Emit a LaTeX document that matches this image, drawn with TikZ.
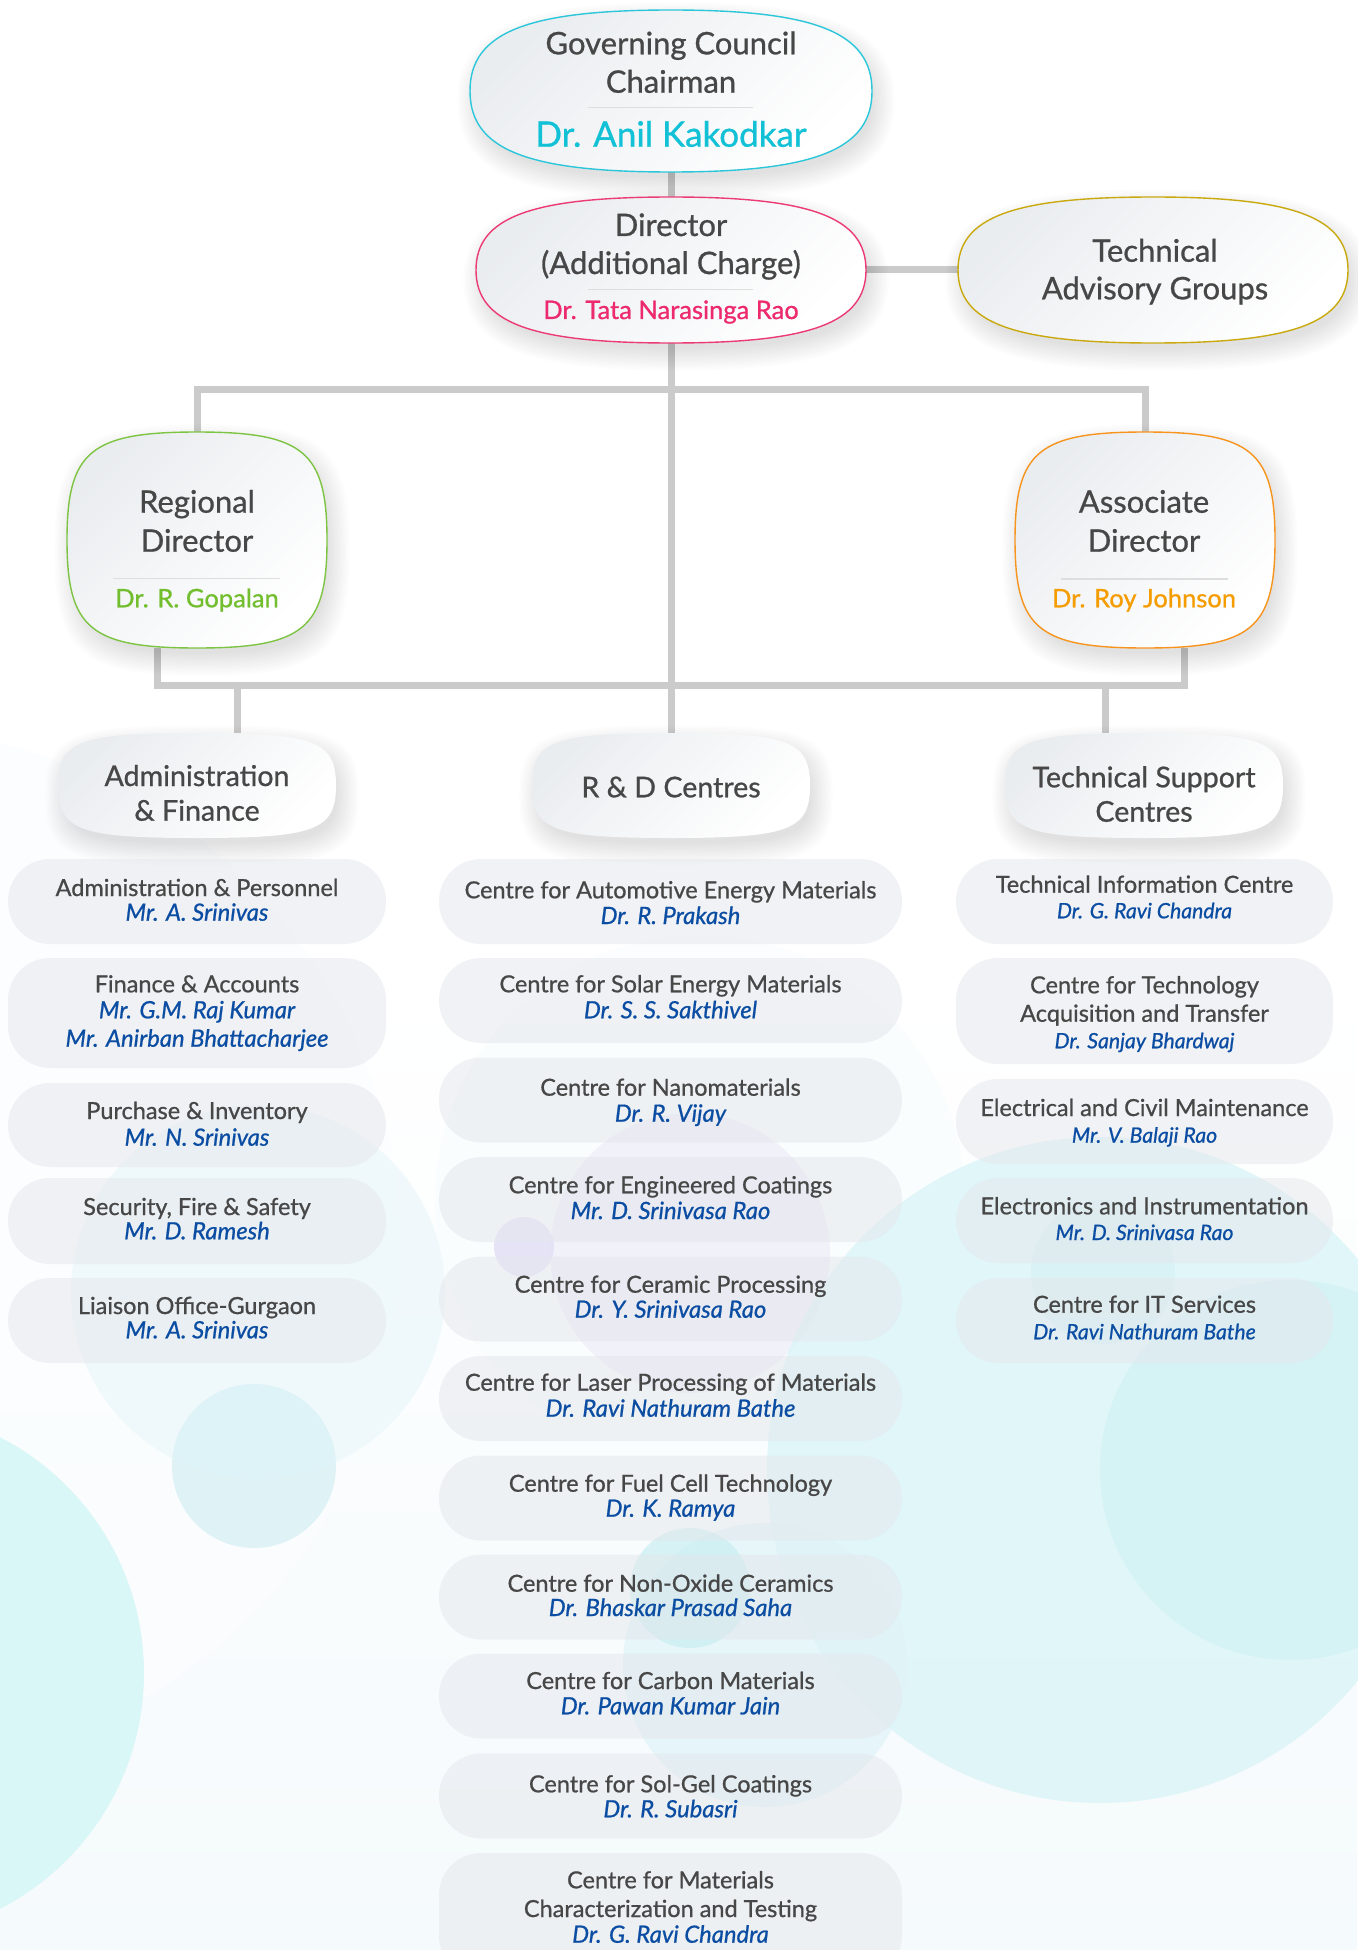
\documentclass[tikz,border=0pt]{standalone}
\usepackage{fontspec}
\setmainfont{Lato}[FakeBold=0.8]

\definecolor{ink}{HTML}{474747}
\definecolor{who}{HTML}{0B4DA2}
\definecolor{cyanB}{HTML}{2CC6DA}
\definecolor{cyanT}{HTML}{12C1D6}
\definecolor{pinkB}{HTML}{EC3B74}
\definecolor{pinkT}{HTML}{EC2A6D}
\definecolor{goldB}{HTML}{C9A90E}
\definecolor{greenB}{HTML}{7DC443}
\definecolor{greenT}{HTML}{72BE2E}
\definecolor{orangeB}{HTML}{F7941E}
\definecolor{orangeT}{HTML}{F59C00}
\definecolor{wire}{HTML}{CBCBCB}
\definecolor{sep}{HTML}{DEDEDE}
\definecolor{hdgray}{HTML}{EAEDF0}
\definecolor{pill}{HTML}{E4E7EC}
\definecolor{bgbot}{HTML}{F5FAFC}

\pgfdeclarelayer{bg}
\pgfdeclarelayer{lines}
\pgfdeclarelayer{shapes}
\pgfsetlayers{bg,lines,shapes,main}

% rounded super-ellipse around a named node: node, half width, half height, roundness, style
\newcommand\blob[5]{%
  \path[shift={(#1.center)}, #5]
    ({#2},0) .. controls ({#2},{#4*#3}) and ({#4*#2},{#3}) .. (0,{#3})
    .. controls ({-#4*#2},{#3}) and ({-#2},{#4*#3}) .. ({-#2},0)
    .. controls ({-#2},{-#4*#3}) and ({-#4*#2},{-#3}) .. (0,{-#3})
    .. controls ({#4*#2},{-#3}) and ({#2},{-#4*#3}) .. ({#2},0) -- cycle;}

% soft drop shadow under a blob: node, half width, half height, roundness
\newcommand\blobshadow[4]{%
  \foreach \i in {0,...,9}{%
    \pgfmathsetmacro\sa{#2-4+\i*2.4}%
    \pgfmathsetmacro\sb{#3-4+\i*2.4}%
    \blob{#1}{\sa}{\sb}{#4}{xshift=5pt, yshift=-10pt, fill=black, fill opacity=0.011}}}

% two-line entry: name, x, y, width, height, title baseline, person baseline, title, person
\newcommand\leaf[9]{%
  \node[leafbox, minimum width=#4pt, minimum height=#5pt] (#1) at (#2,#3) {};
  \node[lt] (#1-a) at (#2,#6) {#8};
  \node[ln] (#1-b) at (#2,#7) {#9};}
\newcommand\leafR[9]{%
  \node[leafbox, minimum width=#4pt, minimum height=#5pt] (#1) at (#2,#3) {};
  \node[lt] (#1-a) at (#2,#6) {#8};
  \node[lnR] (#1-b) at (#2,#7) {#9};}

\begin{document}
\begin{tikzpicture}[x=1pt, y=-1pt,
  hdbox/.style={rectangle, draw=none, inner sep=0pt},
  hdfill/.style={line width=1.4pt, left color=hdgray, right color=white, shading angle=45},
  leafbox/.style={rectangle, rounded corners=42pt, draw=none, fill=pill, fill opacity=0.5, inner sep=0pt},
  conn/.style={draw=wire, line width=7pt},
  sepline/.style={draw=sep, line width=1.2pt},
  big/.style={font=\fontsize{31}{37}\selectfont, text=ink, anchor=base, inner sep=0pt},
  mid/.style={font=\fontsize{28.6}{34}\selectfont, text=ink, anchor=base, inner sep=0pt},
  nm/.style={font=\fontsize{25.5}{30}\selectfont, anchor=base, inner sep=0pt},
  lt/.style={font=\fontsize{23.5}{28}\selectfont, text=ink, anchor=base, inner sep=0pt},
  ln/.style={font=\fontsize{23.8}{28}\selectfont\itshape, text=who, anchor=base, inner sep=0pt},
  lnR/.style={font=\fontsize{21.2}{25}\selectfont\itshape, text=who, anchor=base, inner sep=0pt},
]
\useasboundingbox (0,0) rectangle (1357,1950);

% ---------- background ----------
\begin{pgfonlayer}{bg}
  \fill[top color=white, bottom color=bgbot, middle color=white] (0,0) rectangle (1357,1950);
  \fill[color=white!65!bgbot, fill opacity=0.9] (-120,1250) circle[radius=520];
  \fill[color=white!55!bgbot, fill opacity=0.8] (700,1200) circle[radius=265];
  \fill[color={rgb,255:red,238;green,248;blue,251}, fill opacity=0.85] (258,1292) circle[radius=187];
  \fill[color={rgb,255:red,239;green,238;blue,250}, fill opacity=0.8] (690,1253) circle[radius=140];
  \fill[color={rgb,255:red,227;green,225;blue,245}, fill opacity=0.9] (524,1247) circle[radius=30];
  \fill[color={rgb,255:red,216;green,244;blue,247}, fill opacity=0.75] (1100,1470) circle[radius=333];
  \fill[color={rgb,255:red,206;green,240;blue,244}, fill opacity=0.6] (1290,1470) circle[radius=190];
  \fill[color={rgb,255:red,208;green,239;blue,243}, fill opacity=0.5] (1103,1272) circle[radius=72];
  \fill[color={rgb,255:red,224;green,244;blue,248}, fill opacity=0.75] (765,1665) circle[radius=142];
  \fill[color={rgb,255:red,200;green,238;blue,241}, fill opacity=0.7] (690,1588) circle[radius=60];
  \fill[color={rgb,255:red,222;green,243;blue,247}, fill opacity=0.95] (254,1466) circle[radius=82];
  \fill[color={rgb,255:red,218;green,247;blue,248}] (-121,1673) circle[radius=265];
\end{pgfonlayer}

% ---------- heading blocks ----------
\node[hdbox, minimum width=402pt, minimum height=162pt] (gc)  at (671,91)  {};
\node[hdbox, minimum width=390pt, minimum height=146pt] (dir) at (671,270) {};
\node[hdbox, minimum width=390pt, minimum height=146pt] (tag) at (1153,270) {};
\node[hdbox, minimum width=260pt, minimum height=216pt] (rd)  at (197,540) {};
\node[hdbox, minimum width=260pt, minimum height=216pt] (ad)  at (1145,540) {};
\node[hdbox, minimum width=278pt, minimum height=105pt] (af)  at (197,785.5) {};
\node[hdbox, minimum width=278pt, minimum height=105pt] (rdc) at (671,785.5) {};
\node[hdbox, minimum width=278pt, minimum height=105pt] (tsc) at (1144,785.5) {};

\begin{pgfonlayer}{shapes}
  \blobshadow{gc}{201}{81}{0.72}
  \blobshadow{dir}{195}{73}{0.72}
  \blobshadow{tag}{195}{73}{0.72}
  \blobshadow{rd}{130}{108}{0.82}
  \blobshadow{ad}{130}{108}{0.82}
  \blobshadow{af}{139}{52.5}{0.85}
  \blobshadow{rdc}{139}{52.5}{0.85}
  \blobshadow{tsc}{139}{52.5}{0.85}
  \blob{gc}{201}{81}{0.72}{hdfill, draw=cyanB}
  \blob{dir}{195}{73}{0.72}{hdfill, draw=pinkB}
  \blob{tag}{195}{73}{0.72}{hdfill, draw=goldB}
  \blob{rd}{130}{108}{0.82}{hdfill, draw=greenB}
  \blob{ad}{130}{108}{0.82}{hdfill, draw=orangeB}
  \blob{af}{139}{52.5}{0.85}{hdfill}
  \blob{rdc}{139}{52.5}{0.85}{hdfill}
  \blob{tsc}{139}{52.5}{0.85}{hdfill}
  \draw[sepline] (588,107.3) -- (753,107.3);
  \draw[sepline] (588,289.3) -- (753,289.3);
  \draw[sepline] (113,578.3) -- (280,578.3);
  \draw[sepline] (1061,579) -- (1228,579);
\end{pgfonlayer}

% ---------- connectors ----------
\coordinate (upbar)  at (671,389);
\coordinate (lowbar) at (671,685);
\begin{pgfonlayer}{lines}
  \draw[conn] (gc.south) -- (dir.north);
  \draw[conn] (dir.east) -- (tag.west);
  \draw[conn] (dir.south) -- (rdc.north);
  \draw[conn] (rd.north) |- (upbar) -| (ad.north);
  \draw[conn] ([xshift=-40pt]rd.south) |- (lowbar) -| ([xshift=39pt]ad.south);
  \draw[conn] ([xshift=40pt]af.north) |- (lowbar);
  \draw[conn] ([xshift=-39pt]tsc.north) |- (lowbar);
\end{pgfonlayer}

% ---------- heading texts ----------
\node[big] (gc-a) at (671,54.3) {Governing Council};
\node[big] (gc-b) at (671,92.7) {Chairman};
\node[nm, font=\fontsize{35}{42}\selectfont, text=cyanT] (gc-c) at (671,146.7) {Dr. Anil Kakodkar};

\node[big] (dir-a) at (671,236) {Director};
\node[big] (dir-b) at (671,274) {(Additional Charge)};
\node[nm, text=pinkT] (dir-c) at (671,319) {Dr. Tata Narasinga Rao};

\node[big] (tag-a) at (1155,261.7) {Technical};
\node[big] (tag-b) at (1155,299.3) {Advisory Groups};

\node[big] (rd-a) at (197,512.7) {Regional};
\node[big] (rd-b) at (197,551.7) {Director};
\node[nm, text=greenT] (rd-c) at (197,607.3) {Dr. R. Gopalan};

\node[big] (ad-a) at (1144,512.7) {Associate};
\node[big] (ad-b) at (1144,551.7) {Director};
\node[nm, text=orangeT] (ad-c) at (1144,607.3) {Dr. Roy Johnson};

\node[mid] (af-a) at (197,786) {Administration};
\node[mid] (af-b) at (197,820.7) {\& Finance};
\node[mid] (rdc-a) at (671,797.3) {R \& D Centres};
\node[mid] (tsc-a) at (1144,787.3) {Technical Support};
\node[mid] (tsc-b) at (1144,821.7) {Centres};

% ---------- administration & finance ----------
\leaf{l1}{197}{901.5}{378}{85}{896}{920.7}{Administration \& Personnel}{Mr. A. Srinivas}
\node[leafbox, minimum width=378pt, minimum height=110pt] (l2) at (197,1013) {};
\node[lt] (l2-a) at (197,992.3) {Finance \& Accounts};
\node[ln] (l2-b) at (197,1018.3) {Mr. G.M. Raj Kumar};
\node[ln] (l2-c) at (197,1046.7) {Mr. Anirban Bhattacharjee};
\leaf{l3}{197}{1125}{378}{84}{1119}{1145.7}{Purchase \& Inventory}{Mr. N. Srinivas}
\leaf{l4}{197}{1221}{378}{86}{1215}{1239.3}{Security, Fire \& Safety}{Mr. D. Ramesh}
\leaf{l5}{197}{1320.5}{378}{85}{1314}{1338.3}{Liaison Office-Gurgaon}{Mr. A. Srinivas}

% ---------- R & D centres ----------
\leaf{m1}{670.5}{901.5}{463}{85}{898.3}{924}{Centre for Automotive Energy Materials}{Dr. R. Prakash}
\leaf{m2}{670.5}{1000.5}{463}{85}{992.3}{1018.3}{Centre for Solar Energy Materials}{Dr. S. S. Sakthivel}
\leaf{m3}{670.5}{1100}{463}{85}{1095.7}{1121.7}{Centre for Nanomaterials}{Dr. R. Vijay}
\leaf{m4}{670.5}{1199.5}{463}{85}{1193.3}{1219}{Centre for Engineered Coatings}{Mr. D. Srinivasa Rao}
\leaf{m5}{670.5}{1299}{463}{85}{1292.7}{1317.7}{Centre for Ceramic Processing}{Dr. Y. Srinivasa Rao}
\leaf{m6}{670.5}{1398.5}{463}{85}{1390.7}{1416.7}{Centre for Laser Processing of Materials}{Dr. Ravi Nathuram Bathe}
\leaf{m7}{670.5}{1498}{463}{85}{1491.7}{1516.7}{Centre for Fuel Cell Technology}{Dr. K. Ramya}
\leaf{m8}{670.5}{1597}{463}{85}{1591.7}{1616}{Centre for Non-Oxide Ceramics}{Dr. Bhaskar Prasad Saha}
\leaf{m9}{670.5}{1696}{463}{85}{1689}{1714.3}{Centre for Carbon Materials}{Dr. Pawan Kumar Jain}
\leaf{m10}{670.5}{1796}{463}{85}{1792.3}{1817.3}{Centre for Sol-Gel Coatings}{Dr. R. Subasri}
\node[leafbox, minimum width=463pt, minimum height=125pt] (m11) at (670.5,1915.5) {};
\node[lt] (m11-a) at (670.5,1888.3) {Centre for Materials};
\node[lt] (m11-b) at (670.5,1917) {Characterization and Testing};
\node[ln] (m11-c) at (670.5,1942.7) {Dr. G. Ravi Chandra};

% ---------- technical support centres ----------
\leafR{r1}{1144.5}{901.5}{377}{85}{892.7}{918.3}{Technical Information Centre}{Dr. G. Ravi Chandra}
\node[leafbox, minimum width=377pt, minimum height=106pt] (r2) at (1144.5,1011) {};
\node[lt] (r2-a) at (1144.5,993.3) {Centre for Technology};
\node[lt] (r2-b) at (1144.5,1021.7) {Acquisition and Transfer};
\node[lnR] (r2-c) at (1144.5,1048.3) {Dr. Sanjay Bhardwaj};
\leafR{r3}{1144.5}{1121.5}{377}{85}{1116}{1142.7}{Electrical and Civil Maintenance}{Mr. V. Balaji Rao}
\leafR{r4}{1144.5}{1220.5}{377}{85}{1214.3}{1240}{Electronics and Instrumentation}{Mr. D. Srinivasa Rao}
\leafR{r5}{1144.5}{1320.5}{377}{85}{1312.7}{1339.3}{Centre for IT Services}{Dr. Ravi Nathuram Bathe}
\end{tikzpicture}
\end{document}
